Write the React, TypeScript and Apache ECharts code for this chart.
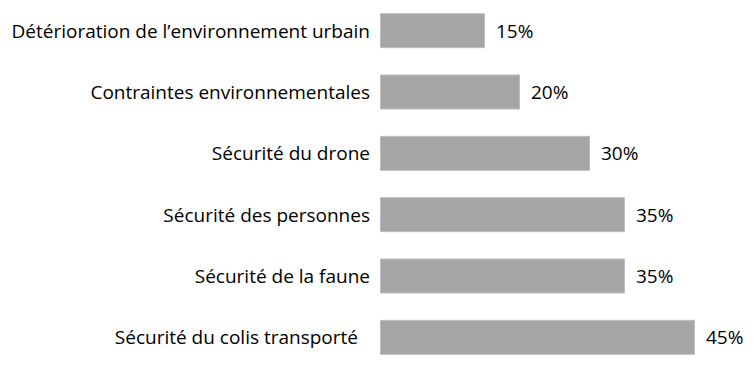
import React, { useEffect, useRef } from "react";
import * as echarts from "echarts";

const categories = [
  "Détérioration de l’environnement urbain",
  "Contraintes environnementales",
  "Sécurité du drone",
  "Sécurité des personnes",
  "Sécurité de la faune",
  "Sécurité du colis transporté",
];
const values = [15, 20, 30, 35, 35, 45];

export default function App() {
  const ref = useRef<HTMLDivElement>(null);
  useEffect(() => {
    document.body.style.margin = "0";
    const chart = echarts.init(ref.current!, null, { renderer: "svg" });
    chart.setOption({
      animation: false,
      grid: { left: 380, width: 350, top: -8, height: 377 },
      xAxis: {
        type: "value",
        min: 0,
        max: 50,
        show: false,
      },
      yAxis: {
        type: "category",
        inverse: true,
        data: categories.map((c, i) =>
          i === categories.length - 1
            ? { value: c, textStyle: { padding: [0, 12, 0, 0] } }
            : c
        ),
        axisLine: { show: false },
        axisTick: { show: false },
        axisLabel: {
          margin: 10,
          color: "#000",
          fontFamily: "Open Sans",
          fontSize: 19,
        },
      },
      series: [
        {
          type: "bar",
          data: values,
          barWidth: 35,
          itemStyle: { color: "#a5a5a5", borderColor: "#bdbdbd", borderWidth: 1 },
          label: {
            show: true,
            position: "right",
            distance: 11,
            formatter: "{c}%",
            color: "#000",
            fontFamily: "Open Sans",
            fontSize: 19,
          },
        },
      ],
    });
    return () => chart.dispose();
  }, []);
  return (
    <div
      ref={ref}
      style={{ position: "absolute", left: 0, top: 0, width: 754, height: 368 }}
    />
  );
}
